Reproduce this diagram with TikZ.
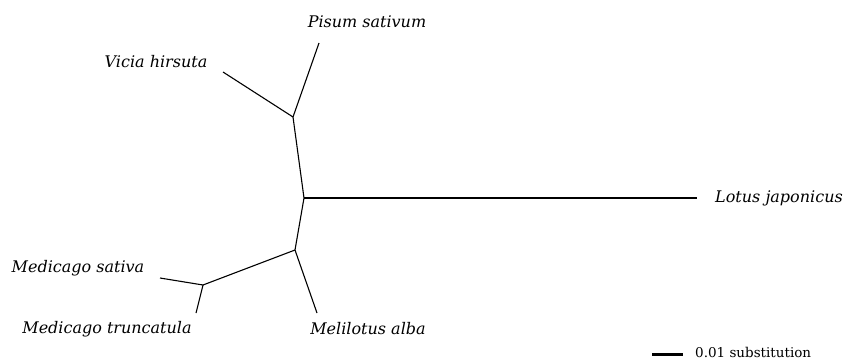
\documentclass[tikz,border=0pt]{standalone}
\usepackage{fontspec}
\setmainfont{DejaVu Serif}
\usepackage{tikz}

\begin{document}
\begin{tikzpicture}[
    x=1pt, y=-1pt,
    branch/.style={line width=1.1pt, -},
    taxon/.style={font=\itshape\fontsize{16}{18}\selectfont, inner sep=0pt},
    scalebar/.style={line width=3pt, -}
]
\useasboundingbox (0,0) rectangle (845,362);

% Define tree nodes
\coordinate (root) at (304,198);
\coordinate (up) at (293,117);
\coordinate (low) at (295,250);
\coordinate (med) at (203,285);

% Define tips
\coordinate (pisum) at (319,43);
\coordinate (vicia) at (223,72);
\coordinate (lotus) at (697,198);
\coordinate (melil) at (317,313);
\coordinate (msat) at (160,278);
\coordinate (mtru) at (196,313);

% Define labels
\node[taxon] (lpisum) at (367,22) {Pisum sativum};
\node[taxon] (lvicia) at (156,62) {Vicia hirsuta};
\node[taxon] (llotus) at (779,198) {Lotus japonicus};
\node[taxon] (lmsat) at (78,268) {Medicago sativa};
\node[taxon] (lmtru) at (107,329) {Medicago truncatula};
\node[taxon] (lmelil) at (368,329) {Melilotus alba};

% Define branches
\draw[branch] (root) -- (lotus);
\draw[branch] (root) -- (up);
\draw[branch] (root) -- (low);
\draw[branch] (up) -- (pisum);
\draw[branch] (up) -- (vicia);
\draw[branch] (low) -- (melil);
\draw[branch] (low) -- (med);
\draw[branch] (med) -- (msat);
\draw[branch] (med) -- (mtru);

% Scale
\coordinate (sa) at (652,354);
\coordinate (sb) at (683,354);
\draw[scalebar] (sa) -- (sb);
\node[font=\fontsize{13.5}{15}\selectfont, anchor=west, inner sep=0pt] (lscale) at (695,352) {0.01 substitution};

\end{tikzpicture}
\end{document}
